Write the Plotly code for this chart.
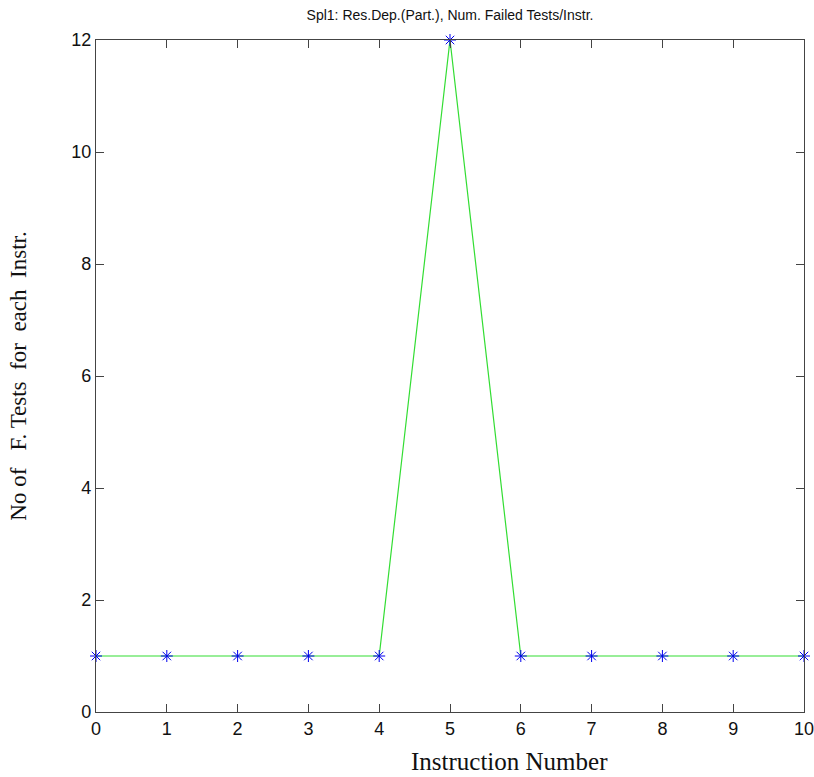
import plotly.graph_objects as go

instr = [0, 1, 2, 3, 4, 5, 6, 7, 8, 9, 10]
failed = [1, 1, 1, 1, 1, 12, 1, 1, 1, 1, 1]
x_ticks = [0, 1, 2, 3, 4, 5, 6, 7, 8, 9, 10]
y_ticks = [0, 2, 4, 6, 8, 10, 12]

fig = go.Figure()
fig.add_trace(go.Scatter(x=instr, y=failed, mode="lines",
                         line=dict(color="#33dd33", width=1.2),
                         hoverinfo="skip", showlegend=False))
fig.add_trace(go.Scatter(x=instr, y=failed, mode="markers",
                         marker=dict(symbol="asterisk-open", size=10, color="#0000ee",
                                     line=dict(color="#0000ee", width=1)),
                         showlegend=False, cliponaxis=False))

axis_common = dict(showgrid=False, zeroline=False, showline=True, automargin=False,
                   linecolor="#444444", linewidth=1.2, mirror="ticks",
                   ticks="inside", ticklen=8, tickcolor="#444444",
                   ticklabeloverflow="allow",
                   tickfont=dict(family="Liberation Sans, Arial", size=18, color="#111111"))

fig.update_layout(
    width=814, height=777,
    margin=dict(l=96, r=10, t=40, b=65),
    paper_bgcolor="white", plot_bgcolor="white",
    title=dict(text="Spl1: Res.Dep.(Part.), Num. Failed Tests/Instr.",
               x=450 / 814, xanchor="center", y=1 - 15 / 777, yanchor="middle",
               font=dict(family="Liberation Sans, Arial", size=14, color="#111111")),
    xaxis=dict(range=[0, 10], tickvals=x_ticks, **axis_common),
    yaxis=dict(range=[0, 12], tickvals=y_ticks,
               title=dict(text="No of&nbsp;&nbsp; F. Tests&nbsp; for&nbsp; each&nbsp; Instr.", standoff=38,
                          font=dict(family="Liberation Serif, Times New Roman", size=23, color="#111111")),
               **axis_common),
)
fig.add_annotation(text="Instruction Number", xref="paper", yref="paper",
                   x=(509 - 96) / 708, y=-(761 - 712) / 672,
                   xanchor="center", yanchor="middle", showarrow=False,
                   font=dict(family="Liberation Serif, Times New Roman", size=25, color="#111111"))

fig.write_html("out.html")
